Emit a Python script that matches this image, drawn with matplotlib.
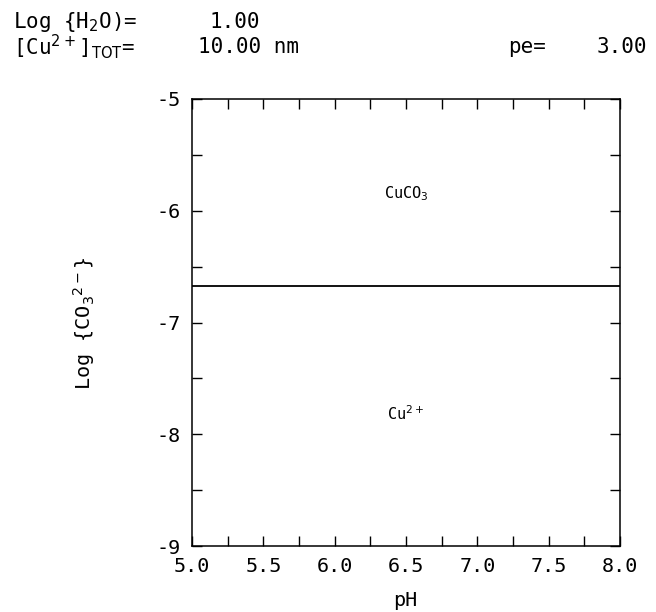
import matplotlib
matplotlib.use("Agg")
import matplotlib.pyplot as plt
from matplotlib.ticker import MultipleLocator

# Predominance boundary between CuCO3(s) and Cu2+
ph_range = [5.0, 8.0]
logco3_range = [-9.0, -5.0]
boundary_logco3 = [-6.67, -6.67]

x_ticks = [5.0, 5.5, 6.0, 6.5, 7.0, 7.5, 8.0]
y_ticks = [-9, -8, -7, -6, -5]

region_labels = ["CuCO$_3$", "Cu$^{2+}$"]
region_ph = [6.50, 6.50]
region_logco3 = [-5.85, -7.82]

plt.rcParams['font.family'] = ['DejaVu Sans Mono', 'DejaVu Sans']
plt.rcParams['mathtext.fontset'] = 'dejavusans'

W, H = 656, 612
fig = plt.figure(figsize=(W / 100, H / 100), dpi=100)
ax = fig.add_axes([192 / W, 1 - 546 / H, 428 / W, 447 / H])

ax.plot(ph_range, boundary_logco3, color='black', lw=1.3)

for lab, x, y in zip(region_labels, region_ph, region_logco3):
    ax.text(x, y, lab, ha='center', va='center', fontsize=11, color='black')

ax.set_xlim(*ph_range)
ax.set_ylim(*logco3_range)
ax.set_xticks(x_ticks)
ax.set_xticklabels([f"{v:.1f}" for v in x_ticks])
ax.set_yticks(y_ticks)
ax.set_yticklabels([f"{v:d}" for v in y_ticks])
ax.xaxis.set_minor_locator(MultipleLocator(0.25))
ax.yaxis.set_minor_locator(MultipleLocator(0.5))
ax.tick_params(which='both', direction='in', top=True, right=True,
               length=7, width=1, labelsize=14.5, pad=8)
for s in ax.spines.values():
    s.set_linewidth(1.1)

ax.set_xlabel("pH", fontsize=14.5)
ax.xaxis.set_label_coords((405 - 192) / 428, -(591 - 546) / 447)
ax.set_ylabel("Log {CO$_3$$^{2-}$}", fontsize=14.5)
ax.yaxis.set_label_coords(-(192 - 97) / 428, (546 - 323) / 447)

# Header with run conditions
hdr = dict(fontsize=15, va='center')
fig.text(13 / W, 1 - 22 / H, "Log {H$_2$O)=", **hdr)
fig.text(210 / W, 1 - 22 / H, "1.00", **hdr)
fig.text(13 / W, 1 - 47 / H, "[Cu$^{2+}$]$_{\\rm TOT}$=", **hdr)
fig.text(198 / W, 1 - 47 / H, "10.00 nm", **hdr)
fig.text(508 / W, 1 - 47 / H, "pe=", **hdr)
fig.text(597 / W, 1 - 47 / H, "3.00", **hdr)

fig.savefig("out.png", dpi=100)
